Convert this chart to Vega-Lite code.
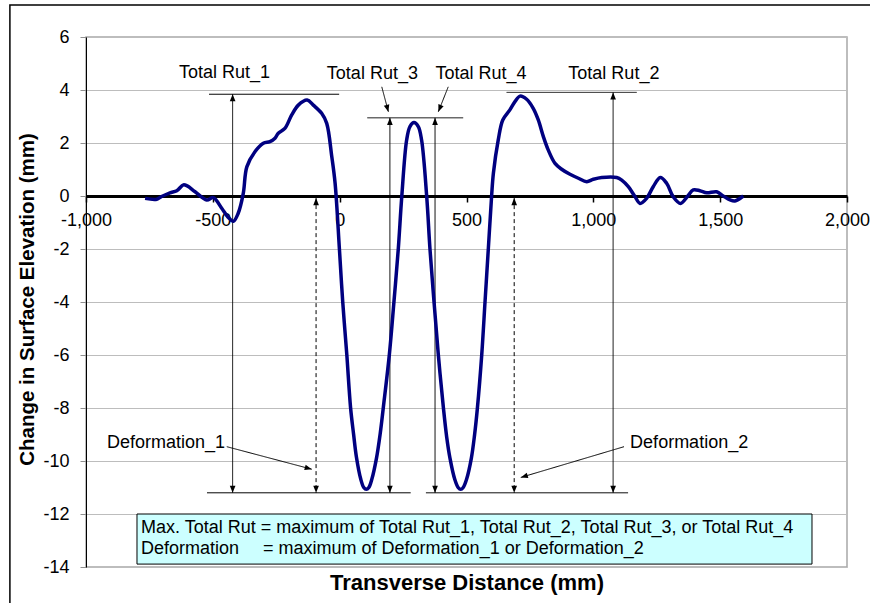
{
  "$schema": "https://vega.github.io/schema/vega-lite/v6.json",
  "width": 761,
  "height": 530,
  "autosize": {"type": "none"},
  "padding": {"left": 86, "top": 37, "right": 23, "bottom": 36},
  "background": "white",
  "config": {
    "view": {"stroke": "#a8a8a8", "strokeWidth": 1.5},
    "font": "Liberation Sans"
  },
  "datasets": {
    "profile": [
      {"x": -767, "y": -0.09}, {"x": -721, "y": -0.12}, {"x": -702, "y": -0.02}, {"x": -669, "y": 0.12},
      {"x": -642, "y": 0.2}, {"x": -616, "y": 0.42}, {"x": -601, "y": 0.38}, {"x": -570, "y": 0.16},
      {"x": -524, "y": -0.15}, {"x": -498, "y": -0.06}, {"x": -465, "y": -0.46}, {"x": -440, "y": -0.8},
      {"x": -419, "y": -0.95}, {"x": -400, "y": -0.65}, {"x": -380, "y": 0.1}, {"x": -366, "y": 1.1},
      {"x": -334, "y": 1.67}, {"x": -301, "y": 1.99}, {"x": -275, "y": 2.05}, {"x": -255, "y": 2.18},
      {"x": -242, "y": 2.37}, {"x": -216, "y": 2.55}, {"x": -189, "y": 3.06}, {"x": -163, "y": 3.43},
      {"x": -128, "y": 3.62}, {"x": -104, "y": 3.43}, {"x": -71, "y": 3.12}, {"x": -51, "y": 2.74},
      {"x": -31, "y": 1.48}, {"x": -18, "y": 0.48}, {"x": -1, "y": -2.0}, {"x": 12, "y": -3.99},
      {"x": 28, "y": -5.97}, {"x": 43, "y": -7.99}, {"x": 55, "y": -9.0}, {"x": 66, "y": -9.85},
      {"x": 83, "y": -10.68}, {"x": 95, "y": -11.0}, {"x": 105, "y": -11.07}, {"x": 115, "y": -11.0},
      {"x": 127, "y": -10.68}, {"x": 145, "y": -9.9}, {"x": 160, "y": -8.95}, {"x": 172, "y": -7.99},
      {"x": 196, "y": -5.97}, {"x": 214, "y": -3.99}, {"x": 231, "y": -2.01}, {"x": 245, "y": 0},
      {"x": 264, "y": 2.11}, {"x": 277, "y": 2.62}, {"x": 293, "y": 2.77}, {"x": 310, "y": 2.62},
      {"x": 323, "y": 2.11}, {"x": 343, "y": 0}, {"x": 356, "y": -2}, {"x": 372, "y": -4},
      {"x": 389, "y": -6}, {"x": 409, "y": -8}, {"x": 422, "y": -9.1}, {"x": 435, "y": -9.9},
      {"x": 454, "y": -10.7}, {"x": 467, "y": -11.0}, {"x": 477, "y": -11.07}, {"x": 487, "y": -11.0},
      {"x": 500, "y": -10.7}, {"x": 519, "y": -9.9}, {"x": 532, "y": -9.0}, {"x": 543, "y": -8},
      {"x": 560, "y": -6}, {"x": 573, "y": -4}, {"x": 586, "y": -2}, {"x": 599, "y": 0},
      {"x": 606, "y": 0.86}, {"x": 625, "y": 2.11}, {"x": 643, "y": 2.87}, {"x": 671, "y": 3.25},
      {"x": 691, "y": 3.56}, {"x": 711, "y": 3.77}, {"x": 737, "y": 3.65}, {"x": 763, "y": 3.31},
      {"x": 783, "y": 2.87}, {"x": 803, "y": 2.24}, {"x": 822, "y": 1.74}, {"x": 849, "y": 1.23},
      {"x": 875, "y": 1.01}, {"x": 908, "y": 0.82}, {"x": 941, "y": 0.67}, {"x": 974, "y": 0.54},
      {"x": 1000, "y": 0.63}, {"x": 1033, "y": 0.7}, {"x": 1092, "y": 0.7}, {"x": 1112, "y": 0.6},
      {"x": 1138, "y": 0.35}, {"x": 1164, "y": -0.02}, {"x": 1184, "y": -0.28}, {"x": 1210, "y": -0.09},
      {"x": 1236, "y": 0.35}, {"x": 1264, "y": 0.7}, {"x": 1289, "y": 0.48}, {"x": 1315, "y": -0.03},
      {"x": 1344, "y": -0.28}, {"x": 1370, "y": -0.03}, {"x": 1394, "y": 0.23}, {"x": 1420, "y": 0.2},
      {"x": 1447, "y": 0.12}, {"x": 1486, "y": 0.16}, {"x": 1512, "y": 0}, {"x": 1539, "y": -0.15},
      {"x": 1558, "y": -0.19}, {"x": 1591, "y": 0}
    ],
    "segments": [
      {"x": -515, "y": 3.84, "x2": -2, "y2": 3.84, "k": "solid"},
      {"x": 109, "y": 2.95, "x2": 487, "y2": 2.95, "k": "solid"},
      {"x": 658, "y": 3.91, "x2": 1171, "y2": 3.91, "k": "solid"},
      {"x": -523, "y": -11.2, "x2": 280, "y2": -11.2, "k": "solid"},
      {"x": 340, "y": -11.2, "x2": 1137, "y2": -11.2, "k": "solid"},
      {"x": -422, "y": 3.84, "x2": -422, "y2": -11.2, "k": "solid"},
      {"x": 198, "y": 2.95, "x2": 198, "y2": -11.2, "k": "solid"},
      {"x": 376, "y": 2.95, "x2": 376, "y2": -11.2, "k": "solid"},
      {"x": 1078, "y": 3.91, "x2": 1078, "y2": -11.2, "k": "solid"},
      {"x": -93, "y": -0.08, "x2": -93, "y2": -11.2, "k": "dashed"},
      {"x": 688, "y": -0.08, "x2": 688, "y2": -11.2, "k": "dashed"},
      {"x": 166, "y": 4.12, "x2": 192, "y2": 3.18, "k": "solid"},
      {"x": 428, "y": 4.12, "x2": 389, "y2": 3.18, "k": "solid"},
      {"x": -445, "y": -9.46, "x2": -110, "y2": -10.31, "k": "solid"},
      {"x": 1121, "y": -9.46, "x2": 714, "y2": -10.62, "k": "solid"}
    ],
    "arrows": [
      {"x": -422, "y": 3.84, "ang": 0}, {"x": -422, "y": -11.2, "ang": 180},
      {"x": 198, "y": 2.95, "ang": 0}, {"x": 198, "y": -11.2, "ang": 180},
      {"x": 376, "y": 2.95, "ang": 0}, {"x": 376, "y": -11.2, "ang": 180},
      {"x": 1078, "y": 3.91, "ang": 0}, {"x": 1078, "y": -11.2, "ang": 180},
      {"x": -93, "y": -0.08, "ang": 0}, {"x": -93, "y": -11.2, "ang": 180},
      {"x": 688, "y": -0.08, "ang": 0}, {"x": 688, "y": -11.2, "ang": 180},
      {"x": 192, "y": 3.18, "ang": 165}, {"x": 389, "y": 3.18, "ang": 202},
      {"x": -110, "y": -10.31, "ang": 105}, {"x": 714, "y": -10.62, "ang": 253}
    ],
    "labels": [
      {"x": -454, "y": 4.66, "t": "Total Rut_1", "a": "center"},
      {"x": 129, "y": 4.62, "t": "Total Rut_3", "a": "center"},
      {"x": 557, "y": 4.62, "t": "Total Rut_4", "a": "center"},
      {"x": 1081, "y": 4.62, "t": "Total Rut_2", "a": "center"},
      {"x": -452, "y": -9.33, "t": "Deformation_1", "a": "right"},
      {"x": 1145, "y": -9.33, "t": "Deformation_2", "a": "left"}
    ],
    "boxtext": [
      {"x": -783, "y": -12.53, "t": "Max. Total Rut = maximum of Total Rut_1, Total Rut_2, Total Rut_3, or Total Rut_4"},
      {"x": -783, "y": -13.32, "t": "Deformation"},
      {"x": -302, "y": -13.32, "t": "= maximum of Deformation_1 or Deformation_2"}
    ],
    "box": [{"x": -799, "x2": 1862, "y": -12.0, "y2": -13.89}],
    "frame": [{"x": -1300, "x2": 2400, "y": 7.208, "y2": -16.8}]
  },
  "encoding": {
    "x": {
      "field": "x",
      "type": "quantitative",
      "scale": {"domain": [-1000, 2000], "nice": false, "zero": false},
      "axis": {
        "offset": -371,
        "grid": false,
        "values": [-1000, -500, 0, 500, 1000, 1500, 2000],
        "domainColor": "black",
        "domainWidth": 3,
        "tickColor": "black",
        "tickSize": 6,
        "tickWidth": 1.5,
        "labelFontSize": 18,
        "labelColor": "black",
        "labelPadding": 9,
        "labelFlush": false,
        "labelOverlap": false,
        "labelBound": false,
        "labelExpr": "datum.value < 0 ? '-' + format(-datum.value, ',') : format(datum.value, ',')",
        "title": "Transverse Distance (mm)",
        "titleFontSize": 22,
        "titleFontWeight": "bold",
        "titleColor": "black",
        "titleX": 380.5,
        "titleY": 386,
        "titleBaseline": "middle"
      }
    },
    "y": {
      "field": "y",
      "type": "quantitative",
      "scale": {"domain": [-14, 6], "nice": false, "zero": false},
      "axis": {
        "values": [-14, -12, -10, -8, -6, -4, -2, 0, 2, 4, 6],
        "grid": true,
        "gridColor": "#bdbdbd",
        "gridWidth": 1,
        "domainColor": "black",
        "domainWidth": 1,
        "tickColor": "#909090",
        "tickSize": 6,
        "labelFontSize": 18,
        "labelColor": "black",
        "labelPadding": 11,
        "labelExpr": "datum.value < 0 ? '-' + format(-datum.value, 'd') : format(datum.value, 'd')",
        "title": "Change in Surface Elevation (mm)",
        "titleFontSize": 20.5,
        "titleFontWeight": "bold",
        "titleColor": "black",
        "titleX": -59,
        "titleY": 262,
        "titleBaseline": "middle"
      }
    }
  },
  "layer": [
    {
      "data": {"name": "frame"},
      "mark": {"type": "rect", "fillOpacity": 0, "stroke": "black", "strokeWidth": 1.5},
      "encoding": {"x2": {"field": "x2"}, "y2": {"field": "y2"}}
    },
    {
      "data": {"name": "segments"},
      "mark": {"type": "rule", "color": "black", "strokeWidth": 1},
      "encoding": {
        "x2": {"field": "x2"},
        "y2": {"field": "y2"},
        "strokeDash": {"field": "k", "type": "nominal", "scale": {"domain": ["solid", "dashed"], "range": [[1, 0], [4, 3]]}, "legend": null}
      }
    },
    {
      "data": {"name": "arrows"},
      "mark": {"type": "point", "shape": "M0,0L-0.4,1L0.4,1Z", "filled": true, "color": "black", "size": 200, "strokeWidth": 0, "opacity": 1},
      "encoding": {"angle": {"field": "ang", "type": "quantitative", "scale": null}}
    },
    {
      "data": {"name": "profile"},
      "mark": {"type": "line", "color": "#000080", "strokeWidth": 3.5, "interpolate": "catmull-rom"}
    },
    {
      "data": {"name": "labels"},
      "transform": [{"filter": "datum.a == 'center'"}],
      "mark": {"type": "text", "align": "center", "baseline": "middle", "fontSize": 18, "color": "black"},
      "encoding": {"text": {"field": "t"}}
    },
    {
      "data": {"name": "labels"},
      "transform": [{"filter": "datum.a == 'right'"}],
      "mark": {"type": "text", "align": "right", "baseline": "middle", "fontSize": 18, "color": "black"},
      "encoding": {"text": {"field": "t"}}
    },
    {
      "data": {"name": "labels"},
      "transform": [{"filter": "datum.a == 'left'"}],
      "mark": {"type": "text", "align": "left", "baseline": "middle", "fontSize": 18, "color": "black"},
      "encoding": {"text": {"field": "t"}}
    },
    {
      "data": {"name": "box"},
      "mark": {"type": "rect", "fill": "#CCFFFF", "stroke": "black", "strokeWidth": 1},
      "encoding": {"x2": {"field": "x2"}, "y2": {"field": "y2"}}
    },
    {
      "data": {"name": "boxtext"},
      "mark": {"type": "text", "align": "left", "baseline": "middle", "fontSize": 18, "color": "black"},
      "encoding": {"text": {"field": "t"}}
    }
  ]
}
